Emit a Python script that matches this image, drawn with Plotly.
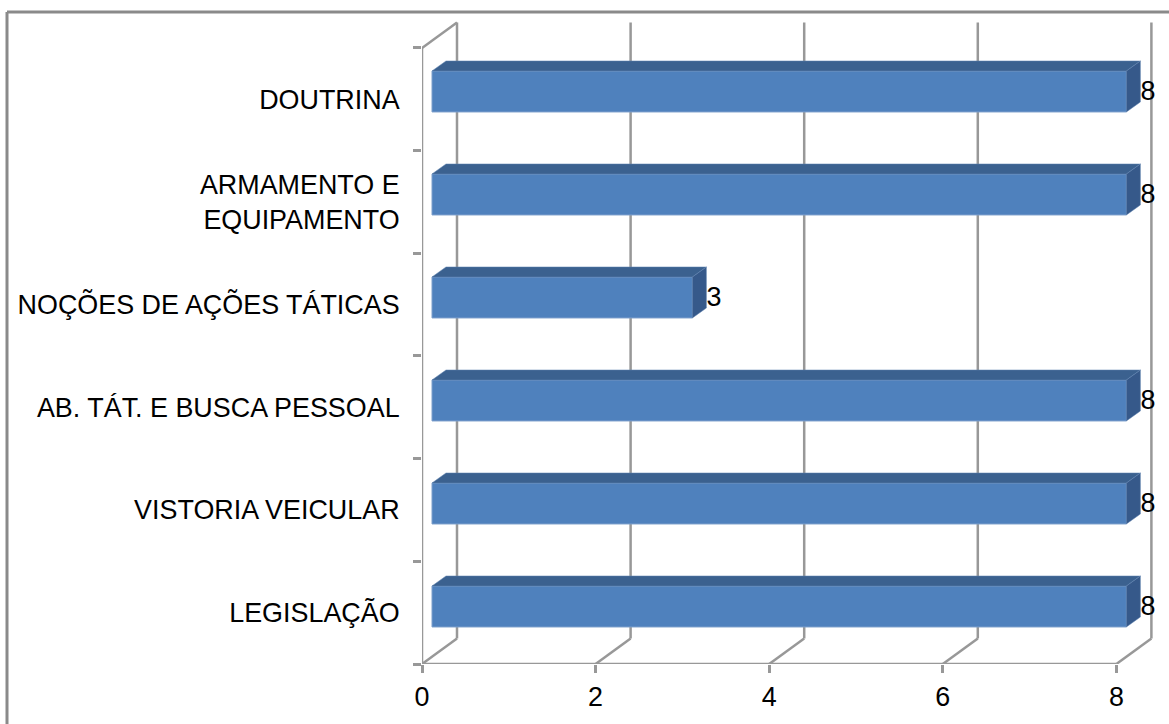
import plotly.graph_objects as go

# Data
categories = ["LEGISLAÇÃO", "VISTORIA VEICULAR", "AB. TÁT. E BUSCA PESSOAL",
              "NOÇÕES DE AÇÕES TÁTICAS", "ARMAMENTO E<br>EQUIPAMENTO", "DOUTRINA"]
values = [8, 8, 8, 3, 8, 8]
x_ticks = [0, 2, 4, 6, 8]

# Canvas and plot box, in pixels
W, H = 1169, 724
L, R, T, B = 422, 1160, 15, 664
XU = 86.8     # px per x unit
YU = 102.67   # px per category
XR = (R - L) / XU
YR = (B - T) / YU

# Oblique "3D" depth, in axis units
WALL_DX, WALL_DY = 35 / XU, 25.5 / YU
BAR_X0 = 10 / XU
BAR_DX, BAR_DY = 14 / XU, 10 / YU
BAR_H = 41 / YU
BAR_SHIFT = 6.2 / YU
BAR_STEP = 103 / YU

GRID = "#989898"
FS = 26.9
n = len(categories)
centers = [0.5 + BAR_SHIFT + i * BAR_STEP for i in range(n)]

fig = go.Figure()

# Front faces
fig.add_trace(go.Bar(
    y=centers, x=values, base=BAR_X0, orientation="h", width=BAR_H,
    marker=dict(color="#4F81BD", line=dict(color="#7C9FCB", width=1)),
    hoverinfo="skip",
))

# Top and side faces
for v, c in zip(values, centers):
    lo, hi = c - BAR_H / 2, c + BAR_H / 2
    x1 = BAR_X0 + v
    fig.add_trace(go.Scatter(
        x=[BAR_X0, x1, x1 + BAR_DX, BAR_X0 + BAR_DX, BAR_X0],
        y=[hi, hi, hi + BAR_DY, hi + BAR_DY, hi],
        mode="lines", fill="toself", fillcolor="#3B618F",
        line=dict(color="#5F83B0", width=0.5), hoverinfo="skip",
    ))
    fig.add_trace(go.Scatter(
        x=[x1, x1 + BAR_DX, x1 + BAR_DX, x1, x1],
        y=[hi, hi + BAR_DY, lo + BAR_DY, lo, hi],
        mode="lines", fill="toself", fillcolor="#36598A",
        line=dict(color="#5F83B0", width=0.5), hoverinfo="skip",
    ))

# Data labels
fig.add_trace(go.Scatter(
    x=[BAR_X0 + v + BAR_DX for v in values],
    y=[c - 1.5 / YU for c in centers],
    mode="text", text=[str(v) for v in values], textposition="middle right",
    textfont=dict(family="Liberation Sans", size=FS, color="black"),
    cliponaxis=False, hoverinfo="skip",
))

# Walls and floor
def seg(x0, y0, x1, y1):
    return dict(type="line", xref="x", yref="y", x0=x0, y0=y0, x1=x1, y1=y1,
                layer="below", line=dict(color=GRID, width=2.5))

shapes = [seg(0, 0, 8, 0), seg(0, 0, 0, n),
          seg(0, n, WALL_DX, n + WALL_DY)]
for t in x_ticks:
    shapes.append(seg(t, 0, t + WALL_DX, WALL_DY))
    shapes.append(seg(t + WALL_DX, WALL_DY, t + WALL_DX, n + WALL_DY))

# Outer picture frame
def px(v): return (v - L) / (R - L)
def py(v): return (B - v) / (B - T)
frame = dict(color="#8A8A8A", width=3)
shapes.append(dict(type="line", xref="paper", yref="paper",
                   x0=px(7), x1=px(W), y0=py(12), y1=py(12), line=frame))
shapes.append(dict(type="line", xref="paper", yref="paper",
                   x0=px(7), x1=px(7), y0=py(12), y1=py(H), line=frame))

fig.update_layout(
    width=W, height=H, showlegend=False, barmode="overlay",
    paper_bgcolor="white", plot_bgcolor="white",
    margin=dict(l=L, r=W - R, t=T, b=H - B, pad=0, autoexpand=False),
    shapes=shapes,
    font=dict(family="Liberation Sans", size=FS, color="black"),
    xaxis=dict(range=[0, XR], tickmode="array", tickvals=x_ticks,
               ticktext=[str(t) for t in x_ticks], showgrid=False, zeroline=False,
               showline=False, ticks="outside", ticklen=8, tickwidth=2.5, tickcolor=GRID,
               ticklabelstandoff=1, tickfont=dict(size=FS)),
    yaxis=dict(range=[0, YR], tickmode="array",
               tickvals=[i + 0.5 for i in range(n)], ticktext=categories,
               showgrid=False, zeroline=False, showline=False,
               ticks="outside", ticklen=16, tickwidth=1, tickcolor="rgba(0,0,0,0)",
               tickfont=dict(size=FS),
               minor=dict(tickmode="array", tickvals=list(range(n + 1)), ticks="outside",
                          ticklen=8, tickwidth=2.5, tickcolor=GRID, showgrid=False)),
)

fig.write_html("out.html", config={"displayModeBar": False},
               post_script="document.body.style.margin='0';document.body.style.overflow='hidden';")
